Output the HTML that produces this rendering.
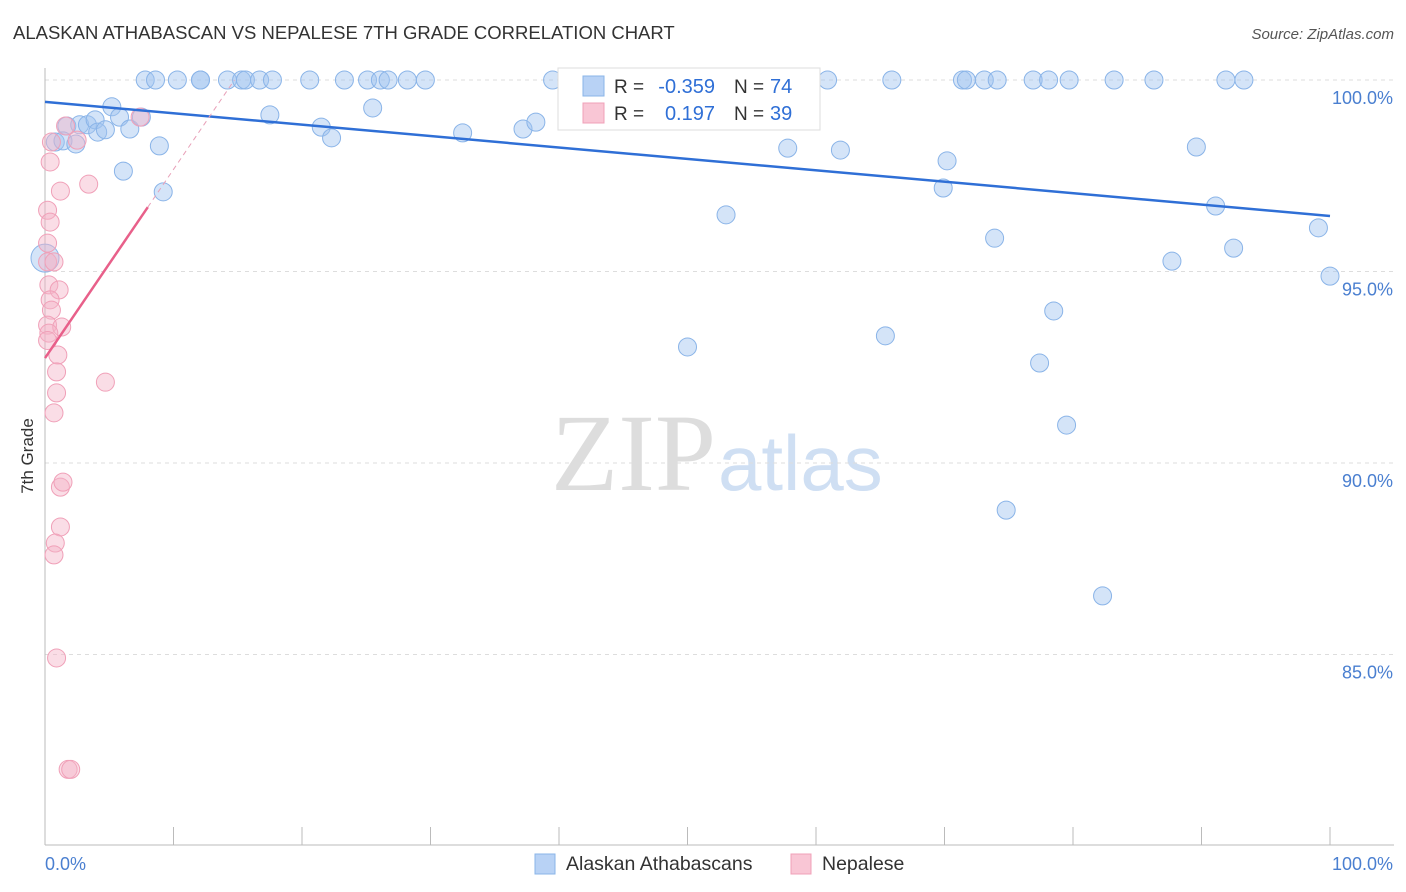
<!DOCTYPE html>
<html><head><meta charset="utf-8"><style>
body{margin:0;background:#fff;font-family:"Liberation Sans",sans-serif;}
svg{display:block}
</style></head><body>
<svg id="chart" width="1406" height="892">
<text x="13" y="39" font-size="18.5" fill="#333">ALASKAN ATHABASCAN VS NEPALESE 7TH GRADE CORRELATION CHART</text>
<text x="1394" y="39" font-size="15" fill="#555" font-style="italic" text-anchor="end">Source: ZipAtlas.com</text>
<text transform="translate(33,456) rotate(-90)" font-size="17" fill="#333" text-anchor="middle">7th Grade</text>
<text x="716" y="490" font-size="110" fill="#ddd" font-family="Liberation Serif,serif" text-anchor="end">ZIP</text>
<text x="718" y="490" font-size="78" fill="#cfdff3">atlas</text>
<g id="grid"></g><g id="marks"></g>
</svg>
<script>
const yTicks=[100,95,90,85];
const yTickLabels=["100.0%","95.0%","90.0%","85.0%"];
const blueX=[7.8,8.6,10.3,12.1,12.1,14.2,15.3,15.6,16.7,17.7,20.6,23.3,25.1,26.1,26.7,28.2,29.6,39.5,41.2,60.9,65.9,71.4,71.7,73.1,74.1,76.9,78.1,79.7,83.2,86.3,91.9,93.3,
5.2,5.8,1.7,2.7,3.3,3.9,4.1,4.7,6.6,0.8,1.4,2.4,8.9,6.1,9.2,17.5,21.5,22.3,25.5,32.5,37.2,38.2,7.5,
57.8,61.9,70.2,69.9,89.6,91.1,53.0,73.9,92.5,99.1,87.7,100,0,78.5,65.4,50.0,77.4,79.5,74.8,82.3];
const blueY=[100,100,100,100,100,100,100,100,100,100,100,100,100,100,100,100,100,100,100,100,100,100,100,100,100,100,100,100,100,100,100,100,
99.3,99.03,98.8,98.83,98.83,98.96,98.64,98.7,98.72,98.38,98.41,98.33,98.28,97.62,97.08,99.09,98.77,98.49,99.27,98.62,98.72,98.9,99.03,
98.22,98.17,97.89,97.18,98.25,96.71,96.48,95.87,95.61,96.14,95.27,94.88,95.35,93.97,93.32,93.03,92.61,90.99,88.77,86.53];
const pinkX=[0.5,0.4,1.2,3.4,0.2,0.4,0.2,0.2,0.7,0.3,1.1,0.4,0.5,0.2,1.3,0.3,1.0,0.9,0.9,0.7,4.7,1.2,1.4,1.2,0.8,0.7,0.9,1.8,2.0,7.4,2.5,1.6,0.2];
const pinkY=[98.38,97.86,97.1,97.28,96.6,96.29,95.74,95.25,95.25,94.65,94.52,94.26,93.99,93.6,93.55,93.39,92.82,92.38,91.83,91.31,92.11,89.37,89.5,88.33,87.91,87.6,84.91,82.0,82.0,99.03,98.43,98.8,93.2];
const blueTrend=[99.43,96.45];
const pinkTrend=[92.74,96.68];
const X=v=>45+v*12.85, Y=v=>80+(100-v)*38.3;
const NS="http://www.w3.org/2000/svg";
function mk(t,a,p){const e=document.createElementNS(NS,t);for(const k in a)e.setAttribute(k,a[k]);p.appendChild(e);return e;}
const g=document.getElementById('grid'),m=document.getElementById('marks');
yTicks.forEach((v,i)=>{
 const l=mk('line',{x1:45,x2:1394,y1:Y(v),y2:Y(v),stroke:'#ddd','stroke-dasharray':'4,4'},g);
 
 
 const t=mk('text',{x:1393,y:Y(v)+24,'font-size':18,fill:'#4a7fd0','text-anchor':'end'},g);t.textContent=yTickLabels[i];
 
 
});
const ax=mk('line',{x1:45,x2:45,y1:68,y2:845,stroke:'#bbb'},g);


const bx=mk('line',{x1:45,x2:1394,y1:845,y2:845,stroke:'#bbb'},g);


for(let i=0;i<=10;i++){const t=mk('line',{x1:X(i*10),x2:X(i*10),y1:827,y2:845,stroke:'#bbb'},g);
 
 }
[["0.0%",45,'start'],["100.0%",1393,'end']].forEach(d=>{const t=mk('text',{x:d[1],y:870,'font-size':18,fill:'#4a7fd0','text-anchor':d[2]},g);t.textContent=d[0];
 
 });
blueX.forEach((x,i)=>{const c=mk('circle',{cx:X(x),cy:Y(blueY[i]),r:x===0?14:9,fill:'rgba(160,195,240,0.45)',stroke:'#8ab4e8','stroke-width':1},m);
 
 });
pinkX.forEach((x,i)=>{const c=mk('circle',{cx:X(x),cy:Y(pinkY[i]),r:9,fill:'rgba(245,180,200,0.45)',stroke:'#f0a0b8','stroke-width':1},m);
 
 });
const bl=mk('line',{x1:X(0),y1:Y(blueTrend[0]),x2:X(100),y2:Y(blueTrend[1]),stroke:'#2f6fd6','stroke-width':2.5},m);


const slope=(pinkTrend[1]-pinkTrend[0])/8;
const pl=mk('line',{x1:X(0),y1:Y(pinkTrend[0]),x2:X(8),y2:Y(pinkTrend[1]),stroke:'#e8608a','stroke-width':2.5},m);


const xe=(100-pinkTrend[0])/slope;
const pd=mk('line',{x1:X(8),y1:Y(pinkTrend[1]),x2:X(xe),y2:Y(100),stroke:'#e8a0b8','stroke-width':1,'stroke-dasharray':'5,4'},m);


const L=mk('g',{},m);


mk('rect',{x:558,y:68,width:262,height:62,fill:'#fff',stroke:'#ddd'},L);
mk('rect',{x:583,y:76,width:21,height:20,fill:'#b8d2f5',stroke:'#8ab4e8'},L);
mk('rect',{x:583,y:103,width:21,height:20,fill:'#f9c6d5',stroke:'#f0a0b8'},L);
[[93,"-0.359","74"],[120,"0.197","39"]].forEach(r=>{
 let t=mk('text',{x:614,y:r[0],'font-size':19,fill:'#333'},L);t.textContent="R =";
 t=mk('text',{x:715,y:r[0],'font-size':20,fill:'#2f6fd6','text-anchor':'end'},L);t.textContent=r[1];
 t=mk('text',{x:734,y:r[0],'font-size':19,fill:'#333'},L);t.textContent="N =";
 t=mk('text',{x:770,y:r[0],'font-size':20,fill:'#2f6fd6'},L);t.textContent=r[2];
});
const B=mk('g',{},m);


mk('rect',{x:535,y:854,width:20,height:20,fill:'#b8d2f5',stroke:'#8ab4e8'},B);
let t=mk('text',{x:566,y:870,'font-size':19.5,fill:'#333'},B);t.textContent="Alaskan Athabascans";
mk('rect',{x:791,y:854,width:20,height:20,fill:'#f9c6d5',stroke:'#f0a0b8'},B);
t=mk('text',{x:822,y:870,'font-size':19.5,fill:'#333'},B);t.textContent="Nepalese";
</script>
</body></html>
